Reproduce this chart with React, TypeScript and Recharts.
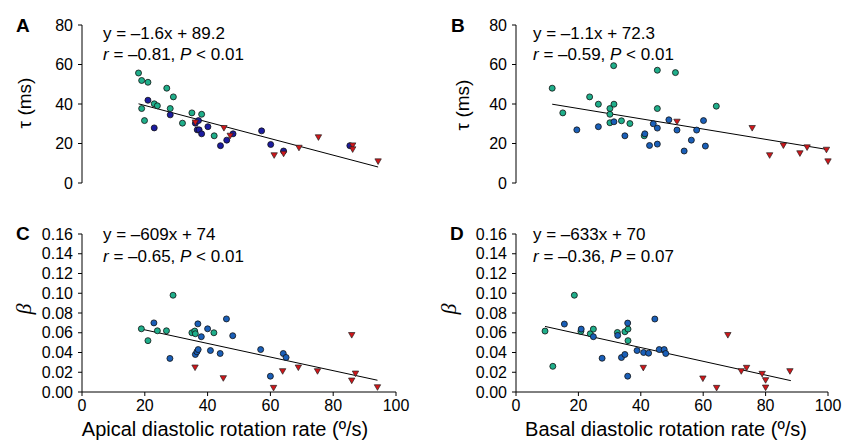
import React from "react";
import {
  ScatterChart,
  Scatter,
  XAxis,
  YAxis,
  ReferenceLine,
} from "recharts";

// panel A: tau vs apical rate
const aTeal = [
  { x: 18, y: 55.7 }, { x: 19, y: 51.9 }, { x: 21, y: 51 }, { x: 19, y: 37.7 },
  { x: 19.9, y: 31.6 }, { x: 23, y: 40.1 }, { x: 24, y: 39.1 }, { x: 27, y: 48 },
  { x: 28.1, y: 37.7 }, { x: 29.1, y: 43.6 }, { x: 32, y: 30.3 }, { x: 35, y: 35.5 },
  { x: 38.1, y: 34.8 }, { x: 42.1, y: 23.9 },
];
const aBlue = [
  { x: 21, y: 41.9 }, { x: 23, y: 27.9 }, { x: 28.1, y: 34.5 }, { x: 36.1, y: 30.3 },
  { x: 37.1, y: 31.6 }, { x: 36.7, y: 26.9 }, { x: 37.3, y: 26.9 }, { x: 38.1, y: 24.9 },
  { x: 40.1, y: 28.5 }, { x: 44.1, y: 18.9 }, { x: 46.1, y: 21.7 }, { x: 48.1, y: 24.9 },
  { x: 57.2, y: 26.4 }, { x: 60.1, y: 19.5 }, { x: 64.2, y: 16.2 }, { x: 85.3, y: 18.9 },
];
const aRed = [
  { x: 36.1, y: 30.6 }, { x: 45.2, y: 27.8 }, { x: 47.2, y: 23.9 }, { x: 61.2, y: 14 },
  { x: 64.2, y: 14.8 }, { x: 69.1, y: 17.8 }, { x: 75.3, y: 23.1 }, { x: 86.2, y: 19 },
  { x: 86.2, y: 17 }, { x: 94.3, y: 10.9 },
];
const aFit = [{ x: 18, y: 40.1 }, { x: 94.3, y: 8.1 }];

// panel B: tau vs basal rate
const bTeal = [
  { x: 11.6, y: 48 }, { x: 15, y: 35.5 }, { x: 23.6, y: 43.6 }, { x: 26.4, y: 39.9 },
  { x: 30.1, y: 37.7 }, { x: 30.1, y: 34.8 }, { x: 30.1, y: 30.5 }, { x: 31.3, y: 59.4 },
  { x: 31.4, y: 39.9 }, { x: 33.8, y: 31.5 }, { x: 36.5, y: 30.1 }, { x: 41.1, y: 23.9 },
  { x: 45.3, y: 57.1 }, { x: 45.3, y: 37.7 }, { x: 51.1, y: 55.9 }, { x: 64.2, y: 38.9 },
];
const bBlue = [
  { x: 19.5, y: 26.9 }, { x: 26.4, y: 28.5 }, { x: 31.4, y: 31 }, { x: 34.9, y: 23.9 },
  { x: 41.3, y: 24.9 }, { x: 42.8, y: 19 }, { x: 44, y: 30 }, { x: 45.3, y: 27.8 },
  { x: 45.3, y: 19.7 }, { x: 49, y: 32 }, { x: 51.6, y: 26.8 }, { x: 53.9, y: 16.2 },
  { x: 56.2, y: 21.7 }, { x: 57.9, y: 26.8 }, { x: 60.1, y: 31.6 }, { x: 60.7, y: 18.7 },
];
const bRed = [
  { x: 51.6, y: 31 }, { x: 75.7, y: 27.8 }, { x: 81.3, y: 14 }, { x: 85.7, y: 19 },
  { x: 91, y: 15 }, { x: 93.3, y: 18 }, { x: 99.5, y: 16.8 }, { x: 100, y: 10.9 },
];
const bFit = [{ x: 11.6, y: 39.9 }, { x: 100, y: 16.9 }];

// panel C: beta vs apical rate
const cTeal = [
  { x: 18.9, y: 0.064 }, { x: 21, y: 0.052 }, { x: 24, y: 0.062 }, { x: 26.9, y: 0.062 },
  { x: 29, y: 0.098 }, { x: 35, y: 0.06 }, { x: 35.9, y: 0.0617 }, { x: 36.1, y: 0.059 },
  { x: 42, y: 0.06 },
];
const cBlue = [
  { x: 22.9, y: 0.07 }, { x: 28, y: 0.034 }, { x: 36.9, y: 0.069 }, { x: 36.1, y: 0.038 },
  { x: 36.6, y: 0.0407 }, { x: 37, y: 0.043 }, { x: 38, y: 0.056 }, { x: 40, y: 0.064 },
  { x: 40.9, y: 0.042 }, { x: 44, y: 0.039 }, { x: 46, y: 0.074 }, { x: 48, y: 0.057 },
  { x: 56.9, y: 0.043 }, { x: 60, y: 0.016 }, { x: 64.1, y: 0.039 }, { x: 65, y: 0.035 },
];
const cRed = [
  { x: 36, y: 0.0247 }, { x: 45, y: 0.0139 }, { x: 61, y: 0.0041 }, { x: 63.9, y: 0.021 },
  { x: 68.9, y: 0.0247 }, { x: 75, y: 0.021 }, { x: 85.9, y: 0.0576 }, { x: 85.9, y: 0.0115 },
  { x: 87.1, y: 0.0186 }, { x: 94.1, y: 0.0047 },
];
const cFit = [{ x: 18.9, y: 0.0637 }, { x: 94.1, y: 0.0119 }];

// panel D: beta vs basal rate
const dTeal = [
  { x: 9.3, y: 0.0617 }, { x: 11.8, y: 0.026 }, { x: 18.7, y: 0.098 }, { x: 20.8, y: 0.0614 },
  { x: 23.8, y: 0.059 }, { x: 24.8, y: 0.0637 }, { x: 32.5, y: 0.0603 }, { x: 34.9, y: 0.061 },
  { x: 35.9, y: 0.0637 }, { x: 35.9, y: 0.052 },
];
const dBlue = [
  { x: 15.5, y: 0.0688 }, { x: 20.9, y: 0.0637 }, { x: 24.8, y: 0.056 }, { x: 27.6, y: 0.0342 },
  { x: 32.6, y: 0.0573 }, { x: 33.8, y: 0.0349 }, { x: 34.9, y: 0.038 }, { x: 35.8, y: 0.0698 },
  { x: 35.8, y: 0.016 }, { x: 38.8, y: 0.042 }, { x: 40.9, y: 0.04 }, { x: 42.5, y: 0.0393 },
  { x: 44.5, y: 0.0739 }, { x: 45.9, y: 0.043 }, { x: 47.5, y: 0.043 }, { x: 48, y: 0.039 },
];
const dRed = [
  { x: 40.8, y: 0.0244 }, { x: 59.9, y: 0.0136 }, { x: 64.3, y: 0.0041 }, { x: 67.9, y: 0.0576 },
  { x: 72.2, y: 0.021 }, { x: 73.9, y: 0.0244 }, { x: 78.9, y: 0.0183 }, { x: 80, y: 0.0119 },
  { x: 80, y: 0.0044 }, { x: 87.8, y: 0.021 },
];
const dFit = [{ x: 9.3, y: 0.0664 }, { x: 88.1, y: 0.0115 }];

const xTicks = [0, 20, 40, 60, 80, 100];
const tauTicks = [0, 20, 40, 60, 80];
const betaTicks = [0, 0.02, 0.04, 0.06, 0.08, 0.1, 0.12, 0.14, 0.16];

const FONT = "'Liberation Sans', Arial, sans-serif";
const TEAL = "#1fae8a";
const BLUE_DARK = "#1c1ca0";
const BLUE = "#1a5fb8";
const RED = "#d0161a";
const Y_W = 40;
const X_H = 30;

const dot = (fill: string) => (p: any) => (
  <circle cx={p.cx} cy={p.cy} r={3} fill={fill} stroke="#111" strokeWidth={0.8} />
);

const tri = (p: any) => (
  <polygon
    points={`${p.cx - 3.2},${p.cy - 2.6} ${p.cx + 3.2},${p.cy - 2.6} ${p.cx},${p.cy + 3}`}
    fill={RED}
    stroke="#222"
    strokeWidth={0.7}
  />
);

const tickStyle = { fill: "#000", fontSize: 16, fontFamily: FONT };

const Panel = ({
  left,
  top,
  width,
  height,
  margin,
  teal,
  blue,
  blueColor,
  red,
  fit,
  yTicks,
  yMax,
  beta,
  xLabel,
  xLabelDx,
}: {
  left: number;
  top: number;
  width: number;
  height: number;
  margin: { top: number; right: number; bottom: number; left: number };
  teal: { x: number; y: number }[];
  blue: { x: number; y: number }[];
  blueColor: string;
  red: { x: number; y: number }[];
  fit: { x: number; y: number }[];
  yTicks: number[];
  yMax: number;
  beta?: boolean;
  xLabel?: string;
  xLabelDx?: number;
}) => (
  <div style={{ position: "absolute", left, top, width, height }}>
    <ScatterChart width={width} height={height} margin={margin}>
      {xLabel ? (
        <XAxis
          type="number"
          dataKey="x"
          domain={[0, 100]}
          ticks={xTicks}
          height={X_H}
          tickSize={4}
          tickMargin={4}
          axisLine={{ stroke: "#000" }}
          tickLine={{ stroke: "#000" }}
          tick={tickStyle}
          label={{
            value: xLabel,
            position: "bottom",
            offset: 30 - X_H,
            dx: xLabelDx,
            fill: "#000",
            fontSize: 20,
            fontFamily: FONT,
          }}
        />
      ) : (
        <XAxis type="number" dataKey="x" domain={[0, 100]} hide />
      )}
      <YAxis
        type="number"
        dataKey="y"
        domain={[0, yMax]}
        ticks={yTicks}
        width={Y_W}
        tickSize={4}
        tickMargin={5}
        interval={0}
        axisLine={{ stroke: "#000" }}
        tickLine={{ stroke: "#000" }}
        tick={tickStyle}
        tickFormatter={(v: number) => (beta ? v.toFixed(2) : String(v))}
      />
      <Scatter data={teal} shape={dot(TEAL)} isAnimationActive={false} />
      <Scatter data={blue} shape={dot(blueColor)} isAnimationActive={false} />
      <Scatter data={red} shape={tri} isAnimationActive={false} />
      <ReferenceLine
        segment={[fit[0], fit[1]]}
        stroke="#000"
        strokeWidth={1}
        ifOverflow="visible"
      />
    </ScatterChart>
  </div>
);

const Stat = ({ x, y, r, pOp, p }: { x: number; y: number; r: string; pOp: string; p: string }) => (
  <text x={x} y={y} fontSize={17} fontFamily={FONT} fill="#000">
    <tspan fontStyle="italic">r</tspan>
    {` = \u2013${r}, `}
    <tspan fontStyle="italic">P</tspan>
    {` ${pOp} ${p}`}
  </text>
);

export default function App() {
  return (
    <div style={{ position: "absolute", left: 0, top: 0, width: 843, height: 440, background: "#fff" }}>
      <Panel
        left={0} top={0} width={420} height={200}
        margin={{ top: 25, right: 24, bottom: 17, left: 82 - Y_W }}
        teal={aTeal} blue={aBlue} blueColor={BLUE_DARK} red={aRed} fit={aFit}
        yTicks={tauTicks} yMax={80}
      />
      <Panel
        left={420} top={0} width={423} height={200}
        margin={{ top: 25, right: 15, bottom: 17, left: 96 - Y_W }}
        teal={bTeal} blue={bBlue} blueColor={BLUE} red={bRed} fit={bFit}
        yTicks={tauTicks} yMax={80}
      />
      <Panel
        left={0} top={195} width={420} height={245}
        margin={{ top: 39, right: 24, bottom: 48 - X_H, left: 82 - Y_W }}
        teal={cTeal} blue={cBlue} blueColor={BLUE} red={cRed} fit={cFit}
        yTicks={betaTicks} yMax={0.16} beta
        xLabel={"Apical diastolic rotation rate (\u00BA/s)"} xLabelDx={-14}
      />
      <Panel
        left={420} top={195} width={423} height={245}
        margin={{ top: 39, right: 15, bottom: 48 - X_H, left: 96 - Y_W }}
        teal={dTeal} blue={dBlue} blueColor={BLUE} red={dRed} fit={dFit}
        yTicks={betaTicks} yMax={0.16} beta
        xLabel={"Basal diastolic rotation rate (\u00BA/s)"} xLabelDx={-6}
      />
      <svg
        width={843}
        height={440}
        style={{ position: "absolute", left: 0, top: 0, pointerEvents: "none" }}
      >
        <g fontFamily={FONT} fontWeight="bold" fontSize={19} fill="#000">
          <text x={16} y={32}>A</text>
          <text x={451} y={32}>B</text>
          <text x={16} y={240}>C</text>
          <text x={450} y={240}>D</text>
        </g>
        <g fontFamily={FONT} fontSize={19} fill="#000" textAnchor="middle">
          <text x={31} y={103} transform="rotate(-90 31 103)">{"\u03C4 (ms)"}</text>
          <text x={469} y={105} transform="rotate(-90 469 105)">{"\u03C4 (ms)"}</text>
        </g>
        <g fontFamily="'Liberation Serif', 'Times New Roman', serif" fontStyle="italic" fontSize={22} fill="#000" textAnchor="middle">
          <text x={31} y={309} transform="rotate(-90 31 309)">{"\u03B2"}</text>
          <text x={456} y={309} transform="rotate(-90 456 309)">{"\u03B2"}</text>
        </g>
        <text x={103} y={38.5} fontSize={17} fontFamily={FONT} fill="#000">{"y = \u20131.6x + 89.2"}</text>
        <Stat x={103} y={59.5} r="0.81" pOp="<" p="0.01" />
        <text x={533} y={38.5} fontSize={17} fontFamily={FONT} fill="#000">{"y = \u20131.1x + 72.3"}</text>
        <Stat x={533} y={59.5} r="0.59" pOp="<" p="0.01" />
        <text x={103} y={240} fontSize={17} fontFamily={FONT} fill="#000">{"y = \u2013609x + 74"}</text>
        <Stat x={103} y={262} r="0.65" pOp="<" p="0.01" />
        <text x={533} y={240} fontSize={17} fontFamily={FONT} fill="#000">{"y = \u2013633x + 70"}</text>
        <Stat x={533} y={262} r="0.36" pOp="=" p="0.07" />
      </svg>
    </div>
  );
}
